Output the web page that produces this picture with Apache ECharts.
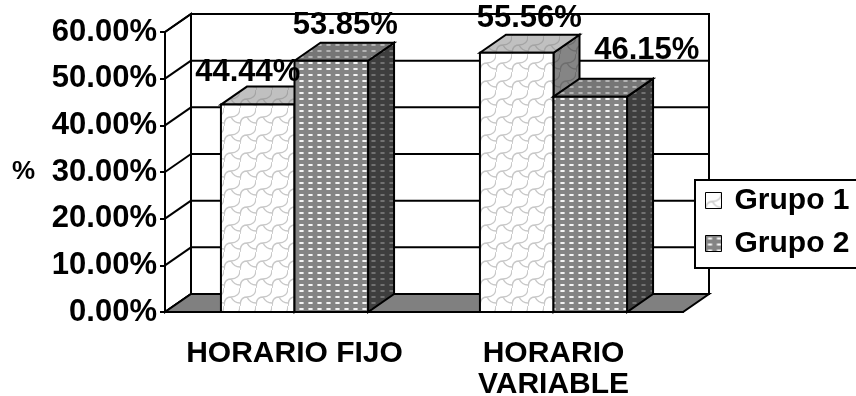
<!DOCTYPE html>
<html>
<head>
<meta charset="utf-8">
<script src="https://cdn.jsdelivr.net/npm/echarts@6/dist/echarts.min.js"></script>
<style>
  html, body { margin: 0; padding: 0; background: #fff; }
  #chart { width: 856px; height: 396px; }
</style>
</head>
<body>
<div id="chart"></div>
<script>
// ---- data ----
const categories = ['HORARIO FIJO', 'HORARIO VARIABLE'];
const seriesNames = ['Grupo 1', 'Grupo 2'];
const grupo1 = [44.44, 55.56];
const grupo2 = [53.85, 46.15];
const yTicks = [0, 10, 20, 30, 40, 50, 60];

// ---- look & geometry ----
const FONT = '"Liberation Sans", Arial, Helvetica, sans-serif';
const DX = 26, DY = -18;          // depth offset of the 3D box
const BAR_FRAC = 0.284;           // bar width as a share of the category band
// label nudges per series / category (pixels, from top-front centre of bar)
const LABEL_SHIFT = [[[-10, -32], [12.5, -34]], [[14, -35], [56.5, -46.6]]];

function makeTile(w, h, draw) {
  const c = document.createElement('canvas');
  c.width = w; c.height = h;
  draw(c.getContext('2d'), w, h);
  return c;
}
// shingle-like curved pattern
function shingleTile(bg, line) {
  return makeTile(16, 18, (ctx, w, h) => {
    ctx.fillStyle = bg; ctx.fillRect(0, 0, w, h);
    ctx.strokeStyle = line; ctx.lineWidth = 1.4;
    ctx.beginPath();
    ctx.moveTo(0, 18);
    ctx.bezierCurveTo(0, 12, 2, 9, 7, 9);
    ctx.bezierCurveTo(12, 9, 16, 6, 16, 0);
    ctx.moveTo(7, 9);
    ctx.bezierCurveTo(9, 13, 12, 15, 16, 15);
    ctx.moveTo(0, 15);
    ctx.lineTo(1, 15);
    ctx.stroke();
  });
}
function dashTile(bg, edge, core) {
  return makeTile(9, 6, (ctx, w, h) => {
    ctx.fillStyle = bg; ctx.fillRect(0, 0, w, h);
    ctx.fillStyle = edge; ctx.fillRect(2, 2, 5, 2);
    ctx.fillStyle = core; ctx.fillRect(3, 2, 3, 2);
  });
}
function pattern(canvas) { return { image: canvas, repeat: 'repeat' }; }

const FACES = [
  { front: pattern(shingleTile('#ffffff', '#c8c8c8')),
    top:   pattern(shingleTile('#c0c0c0', '#a4a4a4')),
    side:  pattern(shingleTile('#858585', '#6e6e6e')) },
  { front: pattern(dashTile('#848484', '#c8c8c8', '#f4f4f4')),
    top:   pattern(dashTile('#767676', '#999999', '#b4b4b4')),
    side:  pattern(dashTile('#3e3e3e', '#5a5a5a', '#727272')) }
];

const LINE = { stroke: '#000', lineWidth: 2 };

// wrap long category names onto two lines at the last space
function wrapCategory(name) {
  return name.length > 12 ? name.replace(/ (?=[^ ]*$)/, '\n') : name;
}

function barGeom(api, g) {
  const ci = api.value(0), v = api.value(1);
  const band = api.size([1, 0])[0];
  const w = band * BAR_FRAC;
  const base = api.coord([ci, 0]);
  const top = api.coord([ci, v]);
  const x0 = base[0] + (g === 0 ? -w : 0);
  return { ci, v, x0, x1: x0 + w, yb: base[1], yt: top[1] };
}

function frameRender(params, api) {
  const band = api.size([1, 0])[0];
  const yMin = yTicks[0], yMax = yTicks[yTicks.length - 1];
  const p0 = api.coord([0, yMin]);
  const pN = api.coord([categories.length - 1, yMin]);
  const left = p0[0] - band / 2, right = pN[0] + band / 2;
  const yB = p0[1], yT = api.coord([0, yMax])[1];
  const kids = [];
  kids.push({ type: 'polygon', shape: { points: [[left + DX, yT + DY], [right + DX, yT + DY], [right + DX, yB + DY], [left + DX, yB + DY]] },
    style: Object.assign({ fill: '#fff' }, LINE) });
  kids.push({ type: 'polygon', shape: { points: [[left, yT], [left + DX, yT + DY], [left + DX, yB + DY], [left, yB]] },
    style: Object.assign({ fill: '#fff' }, LINE) });
  yTicks.forEach(v => {
    const y = api.coord([0, v])[1];
    kids.push({ type: 'line', shape: { x1: left + DX, y1: y + DY, x2: right + DX, y2: y + DY }, style: LINE });
    kids.push({ type: 'line', shape: { x1: left, y1: y, x2: left + DX, y2: y + DY }, style: LINE });
  });
  kids.push({ type: 'polygon', shape: { points: [[left, yB], [right, yB], [right + DX, yB + DY], [left + DX, yB + DY]] },
    style: Object.assign({ fill: '#808080' }, LINE) });
  return { type: 'group', children: kids };
}

function barRender(g) {
  return function (params, api) {
    const b = barGeom(api, g);
    const f = FACES[g];
    return {
      type: 'group',
      children: [
        { type: 'polygon', shape: { points: [[b.x1, b.yt], [b.x1 + DX, b.yt + DY], [b.x1 + DX, b.yb + DY], [b.x1, b.yb]] },
          style: Object.assign({ fill: f.side }, LINE) },
        { type: 'polygon', shape: { points: [[b.x0, b.yt], [b.x0 + DX, b.yt + DY], [b.x1 + DX, b.yt + DY], [b.x1, b.yt]] },
          style: Object.assign({ fill: f.top }, LINE) },
        { type: 'polygon', shape: { points: [[b.x0, b.yt], [b.x1, b.yt], [b.x1, b.yb], [b.x0, b.yb]] },
          style: Object.assign({ fill: f.front }, LINE) }
      ]
    };
  };
}

function labelRender(g) {
  return function (params, api) {
    const b = barGeom(api, g);
    const sh = LABEL_SHIFT[g][b.ci];
    return { type: 'text', x: (b.x0 + b.x1) / 2 + sh[0], y: b.yt + sh[1],
      style: { text: b.v.toFixed(2) + '%', font: 'bold 31px ' + FONT, fill: '#000', align: 'center', verticalAlign: 'middle' } };
  };
}

const chart = echarts.init(document.getElementById('chart'), null, { renderer: 'canvas' });
const values = [grupo1, grupo2];

chart.setOption({
  animation: false,
  backgroundColor: '#fff',
  grid: { left: 165, right: 173, top: 32, bottom: 84, containLabel: false, outerBoundsMode: 'none' },
  xAxis: {
    type: 'category',
    data: categories,
    axisLine: { lineStyle: { color: '#000', width: 2 } },
    axisTick: { alignWithLabel: false, length: 6, lineStyle: { color: '#000', width: 2 } },
    axisLabel: { color: '#000', fontFamily: FONT, fontWeight: 'bold', fontSize: 30, lineHeight: 31,
                 margin: 26, interval: 0, formatter: wrapCategory },
    splitLine: { show: false }
  },
  yAxis: {
    type: 'value',
    min: yTicks[0], max: yTicks[yTicks.length - 1], interval: yTicks[1] - yTicks[0],
    name: '%', nameLocation: 'middle', nameRotate: 0, nameGap: 130,
    nameTextStyle: { color: '#000', fontFamily: FONT, fontWeight: 'bold', fontSize: 26 },
    axisLine: { show: true, lineStyle: { color: '#000', width: 2 } },
    axisTick: { show: true, length: 5, lineStyle: { color: '#000', width: 2 } },
    axisLabel: { color: '#000', fontFamily: FONT, fontWeight: 'bold', fontSize: 31, margin: 8,
                 formatter: v => v.toFixed(2) + '%' },
    splitLine: { show: false }
  },
  legend: {
    orient: 'vertical', left: 695, top: 180,
    itemWidth: 16, itemHeight: 16, itemGap: 10,
    padding: [4, 40, 8, 10],
    backgroundColor: '#fff', borderColor: '#000', borderWidth: 2, borderRadius: 0,
    icon: 'rect',
    textStyle: { color: '#000', fontFamily: FONT, fontWeight: 'bold', fontSize: 30, lineHeight: 33, padding: [0, 0, 0, 8] },
    data: seriesNames.map((n, i) => ({ name: n, itemStyle: { color: FACES[i].front, borderColor: '#000', borderWidth: 1 } }))
  },
  series: [
    { type: 'custom', name: 'frame', silent: true, clip: false, z: 1,
      renderItem: frameRender, data: [[0, 0]] },
    ...seriesNames.map((n, g) => ({
      type: 'custom', name: n, clip: false, z: 2 + g,
      itemStyle: { color: FACES[g].front },
      renderItem: barRender(g),
      encode: { x: 0, y: 1 },
      data: values[g].map((v, i) => [i, v])
    })),
    ...seriesNames.map((n, g) => ({
      type: 'custom', name: n, clip: false, z: 10, silent: true,
      renderItem: labelRender(g),
      encode: { x: 0, y: 1 },
      data: values[g].map((v, i) => [i, v])
    }))
  ]
});
</script>
</body>
</html>
